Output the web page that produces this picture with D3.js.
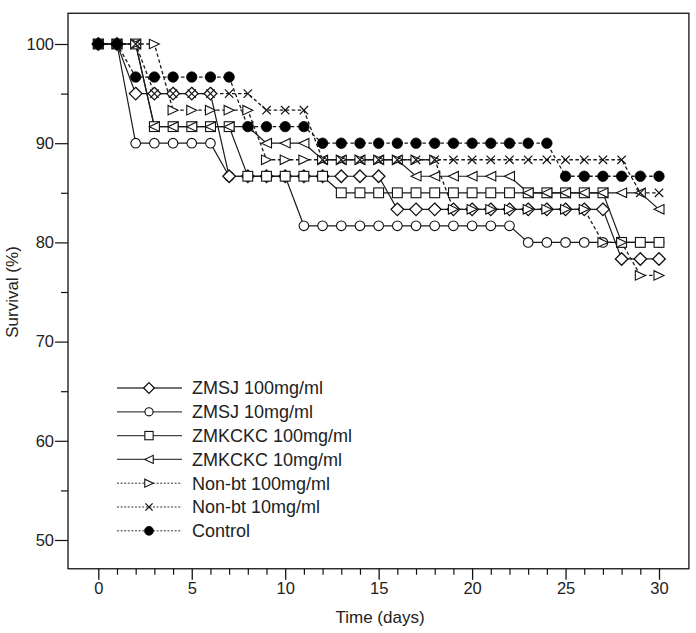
<!DOCTYPE html>
<html>
<head>
<meta charset="utf-8">
<script src="https://cdn.jsdelivr.net/npm/d3@7"></script>
<style>
  html, body { margin: 0; padding: 0; background: #fff; }
  text { font-family: Arial, "Liberation Sans", sans-serif; fill: #222; }
</style>
</head>
<body>
<svg id="chart" width="696" height="633"></svg>
<script>
const days = [0,1,2,3,4,5,6,7,8,9,10,11,12,13,14,15,16,17,18,19,20,21,22,23,24,25,26,27,28,29,30];

const zmsj100 = [100,100,95,95,95,95,95,86.67,86.67,86.67,86.67,86.67,86.67,86.67,86.67,86.67,83.33,83.33,83.33,83.33,83.33,83.33,83.33,83.33,83.33,83.33,83.33,83.33,78.33,78.33,78.33];
const zmsj10 = [100,100,90,90,90,90,90,86.67,86.67,86.67,86.67,81.67,81.67,81.67,81.67,81.67,81.67,81.67,81.67,81.67,81.67,81.67,81.67,80,80,80,80,80,80,80,80];
const zmkckc100 = [100,100,100,91.67,91.67,91.67,91.67,91.67,86.67,86.67,86.67,86.67,86.67,85,85,85,85,85,85,85,85,85,85,85,85,85,85,85,80,80,80];
const zmkckc10 = [100,100,100,91.67,91.67,91.67,91.67,91.67,91.67,90,90,90,88.33,88.33,88.33,88.33,88.33,86.67,86.67,86.67,86.67,86.67,86.67,85,85,85,85,85,85,85,83.33];
const nonbt100 = [100,100,100,100,93.33,93.33,93.33,93.33,93.33,88.33,88.33,88.33,88.33,88.33,88.33,88.33,88.33,88.33,88.33,83.33,83.33,83.33,83.33,83.33,83.33,83.33,83.33,80,80,76.67,76.67];
const nonbt10 = [100,100,100,95,95,95,95,95,95,93.33,93.33,93.33,88.33,88.33,88.33,88.33,88.33,88.33,88.33,88.33,88.33,88.33,88.33,88.33,88.33,88.33,88.33,88.33,88.33,85,85];
const control = [100,100,96.67,96.67,96.67,96.67,96.67,96.67,91.67,91.67,91.67,91.67,90,90,90,90,90,90,90,90,90,90,90,90,90,86.67,86.67,86.67,86.67,86.67,86.67];

const seriesNames = ["ZMSJ 100mg/ml","ZMSJ 10mg/ml","ZMKCKC 100mg/ml","ZMKCKC 10mg/ml","Non-bt 100mg/ml","Non-bt 10mg/ml","Control"];
const seriesValues = [zmsj100, zmsj10, zmkckc100, zmkckc10, nonbt100, nonbt10, control];
const seriesMarkers = ["diamond","circle","square","triLeft","triRight","cross","dot"];
const seriesDashed = [false,false,false,false,true,true,true];

const yTicks = [50,60,70,80,90,100];
const yMinorTicks = [55,65,75,85,95];
const xTicks = [0,5,10,15,20,25,30];
const xMinorTicks = days;

const svg = d3.select("#chart");
const x = d3.scaleLinear().domain([0,30]).range([98.3,659]);
const y = d3.scaleLinear().domain([50,100]).range([540,44]);

const frame = {x0: x(-1.62), x1: x(31.6), y0: y(103.1), y1: y(47.1)};

// frame
svg.append("rect")
  .attr("x", frame.x0).attr("y", frame.y0)
  .attr("width", frame.x1 - frame.x0).attr("height", frame.y1 - frame.y0)
  .attr("fill","none").attr("stroke","#111").attr("stroke-width",1.3);

// y axis
const yAxis = d3.axisLeft(y).tickValues(yTicks).tickSize(13).tickPadding(1);
const gy = svg.append("g").attr("transform",`translate(${frame.x0},0)`).call(yAxis);
gy.select(".domain").remove();
gy.selectAll(".tick line").attr("stroke","#111").attr("stroke-width",1.2);
gy.selectAll(".tick text").style("font-size","16.5px").attr("fill","#222");
const yMinor = d3.axisLeft(y).tickValues(yMinorTicks).tickSize(7).tickFormat("");
const gym = svg.append("g").attr("transform",`translate(${frame.x0},0)`).call(yMinor);
gym.select(".domain").remove();
gym.selectAll(".tick line").attr("stroke","#111").attr("stroke-width",1.2);

// x axis
const xAxis = d3.axisBottom(x).tickValues(xTicks).tickSize(11).tickPadding(3);
const gx = svg.append("g").attr("transform",`translate(0,${frame.y1})`).call(xAxis);
gx.select(".domain").remove();
gx.selectAll(".tick line").attr("stroke","#111").attr("stroke-width",1.3);
gx.selectAll(".tick text").style("font-size","16.5px").attr("fill","#222");
const xMinor = d3.axisBottom(x).tickValues(xMinorTicks.filter(d => d % 5 !== 0)).tickSize(6).tickFormat("");
const gxm = svg.append("g").attr("transform",`translate(0,${frame.y1})`).call(xMinor);
gxm.select(".domain").remove();
gxm.selectAll(".tick line").attr("stroke","#111").attr("stroke-width",1.2);

// axis titles
svg.append("text").attr("x", 380).attr("y", 623).attr("text-anchor","middle")
  .style("font-size","17px").text("Time (days)");
svg.append("text").attr("transform",`translate(18,${y(75)}) rotate(-90)`).attr("text-anchor","middle")
  .style("font-size","17px").text("Survival (%)");

// marker drawing
function drawMarker(g, type, cx, cy, s) {
  const k = s;
  const stroke = "#111";
  if (type === "diamond") {
    const r = 6.3*k;
    g.append("path").attr("d",`M${cx},${cy-r}L${cx+r},${cy}L${cx},${cy+r}L${cx-r},${cy}Z`)
      .attr("fill","#fff").attr("stroke",stroke).attr("stroke-width",1.3);
  } else if (type === "circle") {
    g.append("circle").attr("cx",cx).attr("cy",cy).attr("r",4.8*k)
      .attr("fill","#fff").attr("stroke",stroke).attr("stroke-width",1.1);
  } else if (type === "square") {
    const r = 4.9*k;
    g.append("rect").attr("x",cx-r).attr("y",cy-r).attr("width",2*r).attr("height",2*r)
      .attr("fill","#fff").attr("stroke",stroke).attr("stroke-width",1.1);
  } else if (type === "triLeft") {
    const r = 5*k;
    g.append("path").attr("d",`M${cx-r},${cy}L${cx+r},${cy-r*0.95}L${cx+r},${cy+r*0.95}Z`)
      .attr("fill","#fff").attr("stroke",stroke).attr("stroke-width",1.1);
  } else if (type === "triRight") {
    const r = 5*k;
    g.append("path").attr("d",`M${cx+r},${cy}L${cx-r},${cy-r*0.95}L${cx-r},${cy+r*0.95}Z`)
      .attr("fill","#fff").attr("stroke",stroke).attr("stroke-width",1.1);
  } else if (type === "cross") {
    const r = 4.2*k;
    g.append("path").attr("d",`M${cx-r},${cy-r}L${cx+r},${cy+r}M${cx-r},${cy+r}L${cx+r},${cy-r}`)
      .attr("fill","none").attr("stroke",stroke).attr("stroke-width",1.2);
  } else if (type === "dot") {
    g.append("circle").attr("cx",cx).attr("cy",cy).attr("r",5.2*k)
      .attr("fill","#000").attr("stroke","#000").attr("stroke-width",0.8);
  }
}

// lines
const line = d3.line().x((d,i) => x(days[i])).y(d => y(d));
const linesG = svg.append("g");
seriesValues.forEach((vals, si) => {
  linesG.append("path").datum(vals).attr("d", line)
    .attr("fill","none").attr("stroke","#1a1a1a")
    .attr("stroke-width", seriesDashed[si] ? 1.3 : 1.2)
    .attr("stroke-dasharray", seriesDashed[si] ? "3.5,2.5" : null);
});

// markers (drawn in series order: later series on top)
const drawOrder = [1,0,2,3,4,5,6];
const markG = svg.append("g");
drawOrder.forEach(si => {
  const g = markG.append("g");
  seriesValues[si].forEach((v, i) => drawMarker(g, seriesMarkers[si], x(days[i]), y(v), 1));
});

// legend
const legG = svg.append("g");
const legX0 = 117, legX1 = 182, legMX = 149, legTX = 192, legY0 = 388, legDY = 23.8;
seriesNames.forEach((name, si) => {
  const ly = legY0 + si*legDY;
  legG.append("line").attr("x1",legX0).attr("x2",legX1).attr("y1",ly).attr("y2",ly)
    .attr("stroke", seriesDashed[si] ? "#333" : "#444")
    .attr("stroke-width", seriesDashed[si] ? 1 : 1.3)
    .attr("stroke-dasharray", seriesDashed[si] ? "2,1.6" : null);
  drawMarker(legG, seriesMarkers[si], legMX, ly, 0.85);
  legG.append("text").attr("x",legTX).attr("y",ly).attr("dy","0.36em")
    .style("font-size","18px").text(name);
});
</script>
</body>
</html>
